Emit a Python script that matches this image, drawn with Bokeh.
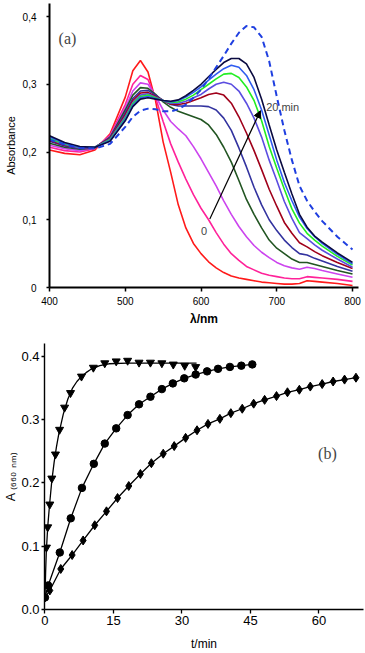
from bokeh.plotting import figure
from bokeh.models import Range1d, FixedTicker, Label, Arrow, NormalHead
from bokeh.embed import file_html
from bokeh.resources import INLINE

# ---------------- data: panel (a) spectra ----------------
wavelength = [400, 420, 440, 460, 480, 500, 510, 520, 530, 540, 550, 560, 570, 580, 590,
              600, 610, 620, 630, 640, 650, 660, 670, 680, 690, 700, 710, 720, 730, 740,
              750, 760, 780, 800]

spec_red = [.203, .198, .196, .203, .227, .281, .320, .335, .318, .276, .215, .170, .122, .088, .065,
            .050, .038, .029, .022, .017, .014, .012, .010, .008, .007, .006, .005, .005, .006, .010,
            .009, .008, .006, .003]
spec_pink = [.207, .202, .200, .205, .225, .270, .300, .313, .307, .280, .245, .212, .185, .160, .137,
             .117, .100, .081, .064, .050, .040, .031, .026, .021, .018, .016, .014, .013, .013, .016,
             .015, .014, .012, .009]
spec_violet = [.210, .205, .202, .206, .223, .265, .290, .302, .300, .283, .262, .245, .234, .224, .208,
               .190, .170, .150, .128, .108, .090, .075, .062, .052, .044, .037, .032, .029, .027, .030,
               .028, .025, .020, .015]
spec_dgreen = [.213, .207, .204, .206, .222, .262, .284, .295, .294, .285, .274, .266, .260, .256, .252,
               .248, .240, .226, .207, .185, .158, .130, .108, .088, .070, .058, .050, .042, .037, .037,
               .034, .031, .025, .020]
spec_indigo = [.216, .209, .205, .207, .221, .258, .279, .290, .291, .284, .276, .270, .268, .268, .268,
               .268, .267, .262, .250, .232, .206, .178, .148, .122, .100, .084, .070, .059, .050, .048,
               .043, .039, .031, .024]
spec_dred = [.217, .210, .206, .207, .220, .255, .276, .287, .288, .282, .276, .271, .270, .272, .276,
             .280, .285, .287, .284, .272, .252, .228, .202, .174, .145, .120, .096, .080, .066, .060,
             .053, .047, .037, .028]
spec_slate = [.219, .211, .206, .207, .219, .252, .273, .284, .286, .281, .276, .272, .272, .275, .280,
              .285, .293, .300, .303, .300, .290, .272, .250, .222, .188, .158, .127, .102, .081, .072,
              .063, .055, .042, .030]
spec_green = [.220, .212, .207, .207, .218, .250, .271, .282, .284, .280, .276, .273, .274, .278, .284,
              .292, .300, .308, .315, .316, .310, .296, .276, .246, .208, .176, .145, .116, .095, .080,
              .070, .061, .046, .033]
spec_blue = [.222, .213, .207, .207, .217, .248, .269, .280, .282, .279, .276, .274, .276, .281, .288,
             .296, .306, .315, .323, .328, .325, .313, .292, .262, .225, .188, .155, .128, .104, .087,
             .075, .065, .049, .035]
spec_navy = [.224, .214, .208, .207, .216, .246, .267, .278, .280, .278, .276, .275, .277, .283, .291,
             .300, .311, .322, .332, .338, .338, .330, .310, .278, .240, .203, .170, .138, .108, .089,
             .076, .067, .051, .037]
spec_dashed = [.218, .211, .206, .205, .212, .237, .252, .261, .264, .263, .260, .260, .263, .270, .280,
               .292, .308, .325, .342, .360, .376, .386, .384, .370, .334, .282, .232, .188, .150, .128,
               .112, .098, .075, .056]

spectra = [spec_red, spec_pink, spec_violet, spec_dgreen, spec_indigo, spec_dred,
           spec_slate, spec_green, spec_blue, spec_navy]
spectra_colors = ["#ff1a1a", "#ff2299", "#cc44ee", "#225522", "#33339f", "#a0001a",
                  "#5b4de0", "#22ee22", "#2f5cf0", "#0a0a40"]

xticks_a = [400, 500, 600, 700, 800]
yticks_a = [0, 0.1, 0.2, 0.3, 0.4]
ylabels_a = ["0", "0,1", "0,2", "0,3", "0,4"]

# ---------------- data: panel (b) kinetics ----------------
tri_t = [0.33, 0.6, 1.06, 1.5, 2.3, 3.2, 4.3, 5.6, 8.0, 10.6, 13.1, 15.6, 18.1, 20.6, 23.1, 25.6, 28.1, 30.6, 33.0]
tri_A = [0.098, 0.13, 0.166, 0.207, 0.245, 0.284, 0.319, 0.342, 0.368, 0.382, 0.389, 0.392, 0.393, 0.390,
         0.390, 0.389, 0.387, 0.385, 0.383]
tri_fit_t = [0, 0.15, 0.3, 0.6, 1.0, 1.5, 2.0, 2.5, 3.0, 4.0, 5.0, 6.0, 7.0, 8.0, 9.0, 10.0, 12.0, 14.0, 18.0, 33.2]
tri_fit_A = [0.015, 0.06, 0.092, 0.13, 0.165, 0.203, 0.232, 0.256, 0.276, 0.308, 0.332, 0.349, 0.360, 0.368,
             0.374, 0.379, 0.385, 0.388, 0.389, 0.389]
circ_t = [0, 0.7, 3.25, 5.65, 8.1, 10.7, 13.1, 15.6, 18.1, 20.6, 23.1, 25.6, 28.0, 30.5, 33.0, 35.5, 37.9,
          40.5, 43.0, 45.4]
circ_A = [0.019, 0.038, 0.09, 0.144, 0.192, 0.23, 0.262, 0.286, 0.307, 0.324, 0.336, 0.348, 0.357, 0.365,
          0.371, 0.376, 0.380, 0.383, 0.385, 0.387]
dia_t = [0, 1.06, 3.46, 5.95, 8.36, 10.9, 13.47, 15.9, 18.35, 20.9, 23.3, 25.9, 28.3, 30.8, 33.3, 35.7,
         38.3, 40.7, 43.2, 45.7, 48.1, 50.7, 53.1, 55.7, 58.1, 60.7, 63.1, 65.6, 68.1]
dia_A = [0.019, 0.03, 0.064, 0.086, 0.109, 0.133, 0.155, 0.176, 0.195, 0.214, 0.231, 0.246, 0.258, 0.271,
         0.283, 0.293, 0.301, 0.310, 0.317, 0.325, 0.331, 0.337, 0.343, 0.347, 0.352, 0.356, 0.360, 0.363, 0.366]

xticks_b = [0, 15, 30, 45, 60]
yticks_b = [0.0, 0.1, 0.2, 0.3, 0.4]
ylabels_b = ["0.0", "0.1", "0.2", "0.3", "0.4"]

SANS = "Liberation Sans"
SERIF = "Liberation Serif"

# ---------------- panel (a) ----------------
p1 = figure(width=365, height=330, x_range=Range1d(400, 807.9), y_range=Range1d(0, 0.4192),
            output_backend="svg", toolbar_location=None,
            min_border_left=49, min_border_right=7, min_border_top=3, min_border_bottom=43)
p1.outline_line_color = None
p1.grid.visible = False
p1.xaxis.ticker = FixedTicker(ticks=xticks_a)
p1.yaxis.ticker = FixedTicker(ticks=yticks_a)
p1.yaxis.major_label_overrides = {t: l for t, l in zip(yticks_a, ylabels_a)}
for ax in (p1.xaxis, p1.yaxis):
    ax.axis_line_width = 2
    ax.axis_line_color = "black"
    ax.major_tick_line_width = 1.5
    ax.major_tick_in = 0
    ax.minor_tick_line_color = None
    ax.major_label_text_font = SANS
    ax.major_label_text_font_size = "10px"
    ax.major_label_text_color = "black"
    ax.axis_label_text_font = SANS
    ax.axis_label_text_color = "black"
p1.xaxis.major_tick_out = 4
p1.xaxis.major_label_standoff = 5
p1.yaxis.major_tick_out = 3
p1.yaxis.major_label_standoff = 10
p1.xaxis.axis_label = "λ/nm"
p1.xaxis.axis_label_text_font_size = "12px"
p1.xaxis.axis_label_text_font_style = "bold"
p1.xaxis.axis_label_standoff = 4
p1.yaxis.axis_label = "Absorbance"
p1.yaxis.axis_label_text_font_size = "11px"
p1.yaxis.axis_label_text_font_style = "normal"
p1.yaxis.axis_label_standoff = 3

for vals, col in zip(spectra, spectra_colors):
    p1.line(wavelength, vals, line_color=col, line_width=1.6)
p1.line(wavelength, spec_dashed, line_color="#1f3fe0", line_width=2, line_dash="6 4")

p1.add_layout(Arrow(end=NormalHead(size=7, fill_color="black", line_color="black"),
                    x_start=611.6, y_start=0.101, x_end=678.5, y_end=0.261,
                    line_color="black", line_width=1.2))
p1.add_layout(Label(x=604, y=0.084, text="0", text_font=SANS, text_font_size="11px",
                    text_align="center", text_baseline="middle"))
p1.add_layout(Label(x=686, y=0.266, text="20 min", text_font=SANS, text_font_size="11px",
                    text_align="left", text_baseline="middle"))
p1.add_layout(Label(x=412, y=0.368, text="(a)", text_font=SERIF, text_font_size="16px",
                    text_align="left", text_baseline="middle"))

# ---------------- panel (b) ----------------
p2 = figure(width=365, height=323, x_range=Range1d(-0.1, 69.75), y_range=Range1d(0, 0.42),
            output_backend="svg", toolbar_location=None,
            min_border_left=44, min_border_right=2, min_border_top=13, min_border_bottom=44)
p2.outline_line_color = None
p2.grid.visible = False
p2.xaxis.ticker = FixedTicker(ticks=xticks_b)
p2.yaxis.ticker = FixedTicker(ticks=yticks_b)
p2.yaxis.major_label_overrides = {t: l for t, l in zip(yticks_b, ylabels_b)}
for ax in (p2.xaxis, p2.yaxis):
    ax.axis_line_width = 1.4
    ax.axis_line_color = "black"
    ax.major_tick_line_width = 1.3
    ax.major_tick_in = 0
    ax.minor_tick_line_color = None
    ax.major_label_text_font = SANS
    ax.major_label_text_font_size = "13px"
    ax.major_label_text_color = "black"
    ax.axis_label_text_font = SANS
    ax.axis_label_text_color = "black"
    ax.axis_label_text_font_style = "normal"
p2.xaxis.major_tick_out = 4
p2.xaxis.major_label_standoff = 2
p2.yaxis.major_tick_out = 3
p2.yaxis.major_label_standoff = 2
p2.xaxis.axis_label = "t/min"
p2.xaxis.axis_label_text_font_size = "12px"
p2.xaxis.axis_label_standoff = 9
p2.yaxis.axis_label = "A ₍₆₆₀ ₙₘ₎"
p2.yaxis.axis_label_text_font_size = "12.5px"
p2.yaxis.axis_label_standoff = 0

p2.line(tri_fit_t, tri_fit_A, line_color="black", line_width=1.3)
p2.line(circ_t, circ_A, line_color="black", line_width=1.3)
p2.line(dia_t, dia_A, line_color="black", line_width=1.3)
p2.scatter(tri_t, tri_A, marker="inverted_triangle", size=8, color="black")
p2.scatter(circ_t, circ_A, marker="circle", size=7.5, color="black")
p2.scatter(dia_t, dia_A, marker="diamond", size=9, color="black")

p2.add_layout(Label(x=59.8, y=0.247, text="(b)", text_font=SERIF, text_font_size="16px",
                    text_align="left", text_baseline="middle"))

open("out.html", "w").write(file_html([p1, p2], INLINE))
